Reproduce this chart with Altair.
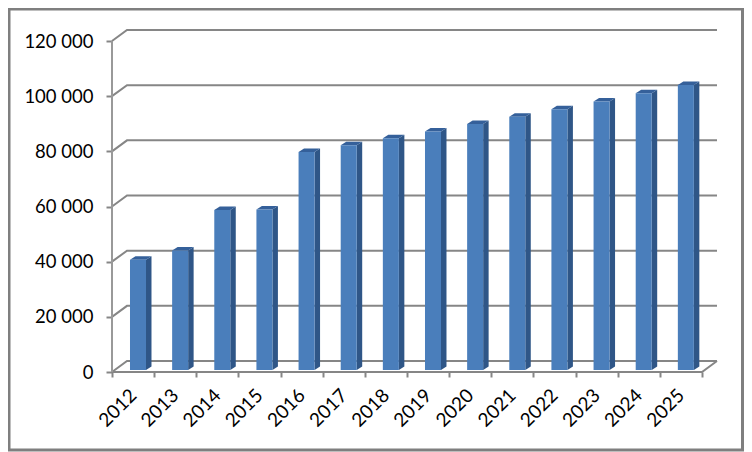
import altair as alt
import pandas as pd

YEARS = [2012, 2013, 2014, 2015, 2016, 2017, 2018, 2019, 2020, 2021, 2022, 2023, 2024, 2025]
VALUES = [40000, 43300, 58000, 58200, 79000, 81500, 84000, 86500, 89200, 91800, 94500, 97300, 100300, 103300]
GRID = [0, 20000, 40000, 60000, 80000, 100000, 120000]

# Depth of the pseudo-3D box, in axis units
WALL_DX = 0.356
WALL_DY = 3988
BAR_LEFT = 0.427
BAR_W = 0.38
BAR_DX = 0.13
BAR_DY = 1270
BAR_BASE = 725
GREY = "#868686"

rows_front, rows_side, rows_top = [], [], []
for i, (yr, v) in enumerate(zip(YEARS, VALUES)):
    l = i + BAR_LEFT
    r = l + BAR_W
    rows_front.append(dict(year=yr, l=l, r=r, lo=BAR_BASE, hi=v + BAR_BASE))
    rows_side.append(dict(year=yr, x=r, lo=BAR_BASE, hi=v + BAR_BASE))
    rows_side.append(dict(year=yr, x=r + BAR_DX, lo=BAR_BASE + BAR_DY, hi=v + BAR_BASE + BAR_DY))
    rows_top.append(dict(year=yr, y=v + BAR_BASE, a=l, b=r))
    rows_top.append(dict(year=yr, y=v + BAR_BASE + BAR_DY, a=l + BAR_DX, b=r + BAR_DX))

n = len(YEARS)
rows_grid = []
for g in GRID:
    rows_grid += [
        dict(g=g, o=0, x=0, y=g),
        dict(g=g, o=1, x=WALL_DX, y=g + WALL_DY),
        dict(g=g, o=2, x=n + WALL_DX, y=g + WALL_DY),
    ]
rows_grid += [
    dict(g=-1, o=0, x=0, y=0),
    dict(g=-1, o=1, x=n, y=0),
    dict(g=-1, o=2, x=n + WALL_DX, y=WALL_DY),
]

xs = alt.Scale(domain=[0, n + WALL_DX], nice=False, zero=False)
ys = alt.Scale(domain=[0, 120000 + WALL_DY], nice=False, zero=False)
X = alt.X("x:Q", scale=xs, title=None, axis=alt.Axis(
    values=list(range(n + 1)), grid=False, domain=False, tickColor=GREY, tickWidth=2, tickSize=5,
    labelFont="Lato", labelFontSize=19, labelColor="#000000", labelAngle=-45, labelAlign="right",
    labelBaseline="middle", labelOffset=21, labelPadding=15, labelOverlap=False, labelBound=False, labelFlush=False,
    labelExpr=f"datum.value < {n} ? {YEARS[0]} + datum.value : ''"))
Y = alt.Y("y:Q", scale=ys, title=None, axis=alt.Axis(
    values=GRID, grid=False, domain=False, tickColor=GREY, tickWidth=2, tickSize=6,
    labelFont="Lato", labelFontSize=18.5, labelColor="#000000", labelPadding=13, labelOverlap=False,
    labelExpr="replace(format(datum.value, ','), ',', ' ')"))

grid = alt.Chart(pd.DataFrame(rows_grid)).mark_line(color=GREY, strokeWidth=2).encode(
    x=X, y=Y, detail="g:N", order="o:Q")
wall = alt.Chart(pd.DataFrame({"x": [0, 0], "y": [0, GRID[-1]]})).mark_line(color="#999999", strokeWidth=2).encode(
    x=alt.X("x:Q", scale=xs), y=alt.Y("y:Q", scale=ys))
front = alt.Chart(pd.DataFrame(rows_front)).mark_rect(color="#4A7EBB").encode(
    x=alt.X("l:Q", scale=xs), x2="r:Q", y=alt.Y("lo:Q", scale=ys), y2="hi:Q")
side = alt.Chart(pd.DataFrame(rows_side)).mark_area(color="#2F5687", orient="vertical").encode(
    x=alt.X("x:Q", scale=xs), y=alt.Y("lo:Q", scale=ys), y2="hi:Q", detail="year:N")
top = alt.Chart(pd.DataFrame(rows_top)).mark_area(color="#35609A", orient="horizontal").encode(
    y=alt.Y("y:Q", scale=ys), x=alt.X("a:Q", scale=xs), x2="b:Q", detail="year:N")
frame = alt.Chart(pd.DataFrame({"k": [0]})).mark_rect(fill=None, stroke="#7F7F7F", strokeWidth=3, clip=False).encode(
    x=alt.value(-103), x2=alt.value(630.5), y=alt.value(-21), y2=alt.value(420))

chart = alt.layer(grid, wall, side, top, front, frame).properties(
    width=605, height=342,
    autosize=alt.AutoSizeParams(type="none"),
    padding={"left": 104, "top": 22, "right": 27, "bottom": 80},
    background="white",
).configure_view(stroke=None)

chart.save("out.html", embed_options={"renderer": "svg", "actions": False})
